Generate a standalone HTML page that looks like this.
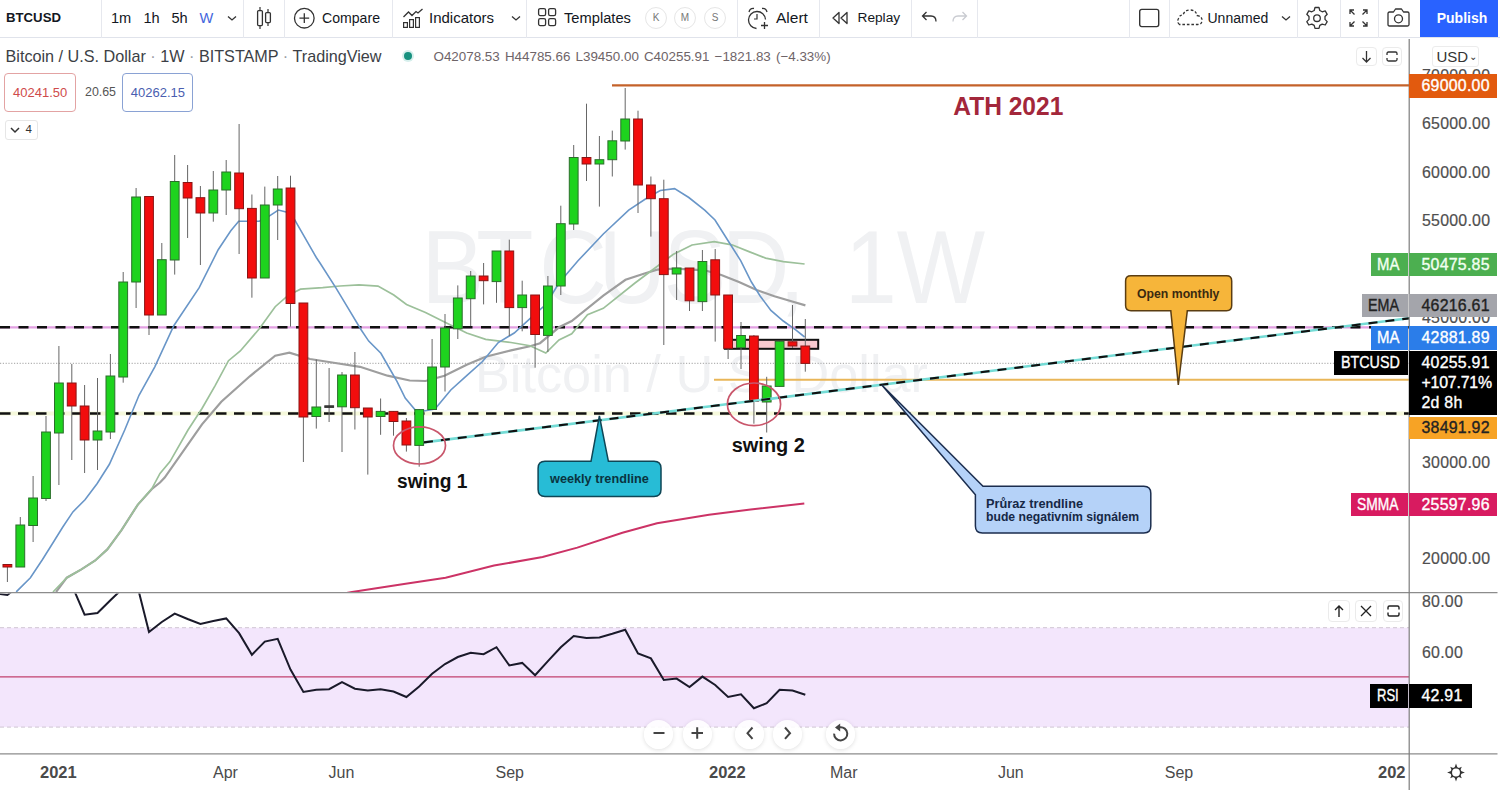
<!DOCTYPE html>
<html><head><meta charset="utf-8">
<style>
*{box-sizing:border-box;margin:0;padding:0}
html,body{width:1500px;height:790px;overflow:hidden;background:#fff;font-family:"Liberation Sans",Arial,sans-serif;color:#131722}
.abs{position:absolute;white-space:nowrap}
#tb{position:absolute;left:0;top:0;width:1500px;height:38px;border-bottom:1px solid #e0e3eb;background:#fff}
.sep{position:absolute;top:0;width:1px;height:38px;background:#e6e8ee}
.tt{position:absolute;top:8.5px;font-size:14px;line-height:18px;color:#131722;white-space:nowrap}
.ksm{position:absolute;top:7px;width:22px;height:22px;border-radius:50%;border:1px solid #e6e6e6;font-size:10px;line-height:20px;text-align:center;color:#777}
.pl{position:absolute;left:1409px;width:88px;height:23.5px;font-size:15.9px;line-height:23.5px;text-align:left;padding-left:12.5px;white-space:nowrap;letter-spacing:0.25px;-webkit-text-stroke:0.35px currentColor}
.pn{letter-spacing:0}
.sx{display:inline-block;transform-origin:0 50%}
.ax{position:absolute;left:1422px;font-size:15.9px;color:#4f4f4f;white-space:nowrap;letter-spacing:0.25px;line-height:18px;-webkit-text-stroke:0.2px currentColor}
.tl{position:absolute;top:763.5px;font-size:16px;line-height:18px;color:#4a4a4a;white-space:nowrap}
.sb{position:absolute;width:22px;height:22px;border:1px solid #ebebeb;border-radius:4px;background:#fff}
.nb{position:absolute;top:719.5px;width:29px;height:29px;border-radius:50%;background:rgba(255,255,255,0.88);box-shadow:0 1px 4px rgba(0,0,0,0.13)}
</style></head><body>
<!-- toolbar -->
<div id="tb">
 <div class="tt" style="left:6px;font-weight:700;font-size:13.2px;top:9px">BTCUSD</div>
 <div class="sep" style="left:101px"></div>
 <div class="tt" style="left:111px;font-size:14.6px">1m</div>
 <div class="tt" style="left:143.5px;font-size:14.6px">1h</div>
 <div class="tt" style="left:171.5px;font-size:14.6px">5h</div>
 <div class="tt" style="left:199.5px;font-size:14.6px;color:#4466dd">W</div>
 <svg class="abs" style="left:226px;top:13px" width="12" height="10"><path d="M2 3.5 L6 7 L10 3.5" fill="none" stroke="#333" stroke-width="1.3"/></svg>
 <div class="sep" style="left:243px"></div>
 <svg class="abs" style="left:255px;top:6px" width="18" height="24"><path d="M5 1v3M5 20v3M13 3v3M13 17v3" stroke="#333" stroke-width="1.2"/><rect x="2.6" y="4.6" width="4.8" height="15" rx="1" fill="none" stroke="#333" stroke-width="1.3"/><rect x="10.6" y="6.6" width="4.8" height="10" rx="1" fill="none" stroke="#333" stroke-width="1.3"/></svg>
 <div class="sep" style="left:284px"></div>
 <svg class="abs" style="left:293px;top:7px" width="23" height="23"><circle cx="11.3" cy="11.2" r="9.8" fill="none" stroke="#333" stroke-width="1.3"/><path d="M11.3 6.3v9.8M6.4 11.2h9.8" stroke="#333" stroke-width="1.3"/></svg>
 <div class="tt" style="left:322px;font-size:14.1px">Compare</div>
 <div class="sep" style="left:391.5px"></div>
 <svg class="abs" style="left:402px;top:7px" width="22" height="22"><path d="M1.5 10 L6.5 5 L10 8.5 L14 4.5 L16 6 L20.5 2" fill="none" stroke="#333" stroke-width="1.3"/><rect x="1.6" y="15.6" width="3.8" height="4.8" fill="none" stroke="#333" stroke-width="1.2"/><rect x="7.6" y="12.6" width="3.8" height="7.8" fill="none" stroke="#333" stroke-width="1.2"/><rect x="13.6" y="10.6" width="3.8" height="9.8" fill="none" stroke="#333" stroke-width="1.2"/></svg>
 <div class="tt" style="left:429px;font-size:15px">Indicators</div>
 <svg class="abs" style="left:510px;top:13px" width="12" height="10"><path d="M2 3.5 L6 7 L10 3.5" fill="none" stroke="#333" stroke-width="1.3"/></svg>
 <div class="sep" style="left:525.5px"></div>
 <svg class="abs" style="left:537px;top:7px" width="21" height="21"><rect x="1.6" y="1.6" width="7" height="7" rx="1.6" fill="none" stroke="#333" stroke-width="1.3"/><rect x="11.6" y="1.6" width="7" height="7" rx="1.6" fill="none" stroke="#333" stroke-width="1.3"/><rect x="1.6" y="11.6" width="7" height="7" rx="1.6" fill="none" stroke="#333" stroke-width="1.3"/><rect x="11.6" y="11.6" width="7" height="7" rx="1.6" fill="none" stroke="#333" stroke-width="1.3"/></svg>
 <div class="tt" style="left:564px;font-size:14.7px">Templates</div>
 <div class="ksm" style="left:645px">K</div>
 <div class="ksm" style="left:674px">M</div>
 <div class="ksm" style="left:704px">S</div>
 <div class="sep" style="left:737px"></div>
 <svg class="abs" style="left:746px;top:6px" width="25" height="25"><path d="M10.5 22.5 A8.5 8.5 0 1 1 19.5 13.5" fill="none" stroke="#333" stroke-width="1.3"/><path d="M3 6 Q4 2 8 2.5 M16 2.5 Q20 2 21 6" fill="none" stroke="#333" stroke-width="1.3"/><path d="M11 8v5h-3" fill="none" stroke="#333" stroke-width="1.2"/><path d="M18.5 16v7M15 19.5h7" stroke="#333" stroke-width="1.3"/></svg>
 <div class="tt" style="left:776px;font-size:15.5px">Alert</div>
 <div class="sep" style="left:819px"></div>
 <svg class="abs" style="left:831px;top:10px" width="18" height="16"><path d="M8 2.5 L2 8 L8 13.5 Z M16 2.5 L10 8 L16 13.5 Z" fill="none" stroke="#333" stroke-width="1.3" stroke-linejoin="round"/></svg>
 <div class="tt" style="left:857.5px;font-size:13.7px">Replay</div>
 <div class="sep" style="left:911px"></div>
 <svg class="abs" style="left:921px;top:10px" width="17" height="14"><path d="M5.5 2 L1.5 6 L5.5 10 M1.5 6 H10 Q15 6 15 11.5" fill="none" stroke="#333" stroke-width="1.3"/></svg>
 <svg class="abs" style="left:951px;top:10px" width="17" height="14"><path d="M11.5 2 L15.5 6 L11.5 10 M15.5 6 H7 Q2 6 2 11.5" fill="none" stroke="#c9cbd1" stroke-width="1.3"/></svg>
 <div class="sep" style="left:977px"></div>
 <div class="sep" style="left:1128.5px"></div>
 <svg class="abs" style="left:1138px;top:8px" width="23" height="20"><rect x="1.7" y="1.4" width="19" height="17.2" rx="2" fill="none" stroke="#333" stroke-width="1.4"/></svg>
 <div class="sep" style="left:1169px"></div>
 <svg class="abs" style="left:1176px;top:8px" width="28" height="19"><path d="M3.5 16.5 Q0.5 14 2.5 10.5 Q3.5 7 7 7 Q8.5 2 14 2 Q20 2 21 7.5 Q26.5 8.5 26 13 Q25.5 16.5 22 16.5 Z" fill="none" stroke="#333" stroke-width="1.3" stroke-dasharray="2.6 1.9"/></svg>
 <div class="tt" style="left:1207.5px;font-size:14px">Unnamed</div>
 <svg class="abs" style="left:1280px;top:13px" width="12" height="10"><path d="M2 3.5 L6 7 L10 3.5" fill="none" stroke="#333" stroke-width="1.3"/></svg>
 <div class="sep" style="left:1296.5px"></div>
 <svg class="abs" style="left:1305px;top:6px" width="24" height="24"><path d="M10 1.5h4l0.8 3 2.4 1.3 3-0.9 2 3.4-2.2 2.2v2.9l2.2 2.2-2 3.4-3-0.9-2.4 1.3-0.8 3h-4l-0.8-3-2.4-1.3-3 0.9-2-3.4 2.2-2.2v-2.9l-2.2-2.2 2-3.4 3 0.9 2.4-1.3z" fill="none" stroke="#333" stroke-width="1.3" stroke-linejoin="round"/><circle cx="12" cy="12.2" r="3.3" fill="none" stroke="#333" stroke-width="1.3"/></svg>
 <div class="sep" style="left:1340px"></div>
 <svg class="abs" style="left:1348px;top:8px" width="21" height="20"><path d="M2 6V2h4M2 2l4.5 4.5M19 6V2h-4M19 2l-4.5 4.5M2 14v4h4M2 18l4.5-4.5M19 14v4h-4M19 18l-4.5-4.5" fill="none" stroke="#333" stroke-width="1.3"/></svg>
 <div class="sep" style="left:1378px"></div>
 <svg class="abs" style="left:1386px;top:7px" width="25" height="21"><path d="M2 6.5 Q2 5 3.5 5 H7.5 L9.5 2 H15.5 L17.5 5 H21.5 Q23 5 23 6.5 V17.5 Q23 19 21.5 19 H3.5 Q2 19 2 17.5 Z" fill="none" stroke="#333" stroke-width="1.3" stroke-linejoin="round"/><circle cx="12.5" cy="11.8" r="4" fill="none" stroke="#333" stroke-width="1.3"/></svg>
 <div class="abs" style="left:1420px;top:0;width:77.5px;height:37px;background:#2962ff;color:#fff;font-weight:700;font-size:14px;line-height:36px;text-align:center;padding-left:6.5px">Publish</div>
</div>

<!-- legend -->
<div class="abs" style="left:5.5px;top:46px;font-size:16.2px;line-height:20px;color:#3c3f46">Bitcoin / U.S. Dollar <span style="color:#9a9da5">·</span> 1W <span style="color:#9a9da5">·</span> BITSTAMP <span style="color:#9a9da5">·</span> TradingView</div>
<div class="abs" style="left:401.5px;top:50px;width:12px;height:12px;border-radius:50%;background:#d6efec"></div>
<div class="abs" style="left:403.5px;top:52px;width:8px;height:8px;border-radius:50%;background:#17917f"></div>
<div class="abs" style="left:433.5px;top:49px;font-size:13.4px;line-height:16px;word-spacing:1.4px;color:#6e6468">O42078.53 H44785.66 L39450.00 C40255.91 −1821.83 (−4.33%)</div>
<div class="abs" style="left:4.2px;top:73px;width:72px;height:39px;border:1px solid #e3a3a3;border-radius:4px;font-size:13px;line-height:37px;color:#cf4b4b;text-align:center">40241.50</div>
<div class="abs" style="left:85px;top:85px;font-size:12.4px;line-height:15px;color:#555">20.65</div>
<div class="abs" style="left:122.4px;top:73px;width:71px;height:39px;border:1px solid #8aa2d4;border-radius:4px;font-size:13px;line-height:37px;color:#4a5eb0;text-align:center">40262.15</div>
<div class="abs" style="left:5px;top:119.8px;width:33px;height:20px;border:1px solid #e6e6e6;border-radius:3px;background:#fff"></div>
<svg class="abs" style="left:9px;top:125px" width="12" height="10"><path d="M2 3 L6 7 L10 3" fill="none" stroke="#333" stroke-width="1.5"/></svg>
<div class="abs" style="left:25.5px;top:121.5px;font-size:11.5px;line-height:15px;color:#333">4</div>

<!-- chart svg -->
<svg class="abs" style="left:0;top:0" width="1500" height="790" font-family="Liberation Sans, Arial, sans-serif">
<defs><clipPath id="rsiclip"><rect x="0" y="593.5" width="1409" height="160"/></clipPath><clipPath id="mainclip"><rect x="0" y="39" width="1409" height="553.5"/></clipPath></defs>
<g clip-path="url(#mainclip)">
<text x="468.3 529.1 599.1 664.9 737.2 802.0 865.6 900.0 938.7 996.3" y="303.5" transform="scale(0.9,1)" font-size="104" fill="#f0f1f3">BTCUSD, 1W</text>
<text x="475" y="391.5" font-size="52" fill="#f0f1f3" textLength="453" lengthAdjust="spacingAndGlyphs">Bitcoin / U.S. Dollar</text>
<line x1="0" x2="1409" y1="413.5" y2="413.5" stroke="#f6f9dc" stroke-width="4"/>
<line x1="0" x2="1409" y1="413.5" y2="413.5" stroke="#111" stroke-width="2.4" stroke-dasharray="10.5 7.5"/>
<line x1="0" x2="1409" y1="327.3" y2="327.3" stroke="#e2a0e2" stroke-width="2.2"/>
<line x1="0" x2="1409" y1="327.3" y2="327.3" stroke="#111" stroke-width="2.4" stroke-dasharray="10 8.5"/>
<line x1="0" x2="1409" y1="363.3" y2="363.3" stroke="#a0a0a0" stroke-width="1" stroke-dasharray="1.2 1.6"/>
<line x1="714" x2="1409" y1="379.7" y2="379.7" stroke="#e9b658" stroke-width="2"/>
<line x1="612" x2="1409" y1="85.4" y2="85.4" stroke="#c4622a" stroke-width="2.4"/>
<polyline points="330.0,596.0 352.0,592.0 404.0,584.0 445.6,577.7 494.0,565.6 542.6,557.0 577.3,547.6 622.4,532.7 657.0,523.3 709.0,514.7 750.6,509.5 804.3,503.6" fill="none" stroke="#cc3366" stroke-width="2"/>
<polyline points="56.0,592.0 66.8,577.7 81.0,569.6 95.2,560.5 107.3,549.4 121.5,530.1 137.7,504.8 151.9,489.0 160.0,482.5 164.7,477.6 202.0,424.4 221.3,401.7 249.8,376.3 275.2,355.7 289.4,352.6 310.0,359.0 335.3,363.0 360.0,366.8 387.5,375.7 409.7,380.5 425.5,381.0 444.5,375.7 466.7,364.7 485.7,356.7 511.0,350.4 530.0,346.3 540.0,343.2 559.0,327.3 571.7,321.0 603.3,295.7 625.5,279.8 644.5,273.5 657.2,269.7 676.2,268.7 704.7,270.3 721.3,275.0 739.0,282.0 756.7,290.0 774.4,296.2 792.2,301.5 805.4,305.4" fill="none" stroke="#9e9e9e" stroke-width="2.2"/>
<polyline points="53.0,592.0 66.8,577.7 81.0,569.6 95.2,560.5 107.3,549.4 121.5,530.1 137.7,504.8 151.9,488.6 160.0,473.4 170.0,461.6 188.0,430.0 202.0,408.5 215.0,385.8 228.5,360.7 240.3,351.0 259.3,328.8 275.2,306.7 287.8,295.6 300.5,289.2 322.7,287.7 340.0,286.0 359.0,284.9 378.0,286.1 393.8,295.0 406.5,304.5 425.5,312.4 444.5,322.0 466.7,333.0 485.7,339.3 511.0,342.5 530.0,345.7 545.8,353.0 559.0,340.0 571.7,333.7 587.5,314.7 603.3,308.3 635.0,283.0 654.0,268.7 673.0,254.5 692.0,245.0 714.2,241.6 731.9,244.8 749.6,251.9 765.6,258.1 783.3,261.6 804.6,264.0" fill="none" stroke="#9cc09a" stroke-width="1.7"/>
<polyline points="16.2,591.9 30.4,577.7 42.5,559.5 52.7,543.3 62.8,527.0 72.9,511.9 85.0,499.7 97.2,483.5 109.4,464.3 124.7,430.0 139.0,395.3 154.8,366.8 173.8,325.7 199.2,287.7 218.2,249.7 230.8,230.7 238.7,221.2 259.3,221.2 268.8,216.4 278.3,210.0 291.0,213.2 297.3,224.3 316.3,257.5 320.0,263.0 336.2,288.4 348.4,308.7 360.6,329.0 368.7,341.1 380.9,353.3 389.0,367.5 397.1,381.7 405.2,398.0 415.3,410.0 421.0,411.5 435.0,409.0 450.8,390.0 466.7,375.7 482.5,361.5 498.3,342.5 514.2,333.0 530.0,318.7 545.8,304.5 559.0,283.0 578.0,260.8 603.3,234.0 628.7,210.2 647.7,197.5 660.3,190.5 674.6,188.6 688.8,197.5 704.7,210.2 715.0,220.0 728.4,241.3 740.8,260.8 751.4,282.0 760.3,296.2 770.9,310.4 783.3,321.0 795.7,329.9 804.6,337.0" fill="none" stroke="#6996c8" stroke-width="1.6"/>
<rect x="724.8" y="339.8" width="93.4" height="9" fill="#f8c9cf" stroke="#111" stroke-width="2"/>
<line x1="7.4" x2="7.4" y1="564.5" y2="582" stroke="#666" stroke-width="1"/>
<line x1="20.3" x2="20.3" y1="517" y2="567" stroke="#666" stroke-width="1"/>
<line x1="33.1" x2="33.1" y1="476" y2="542" stroke="#666" stroke-width="1"/>
<line x1="46.0" x2="46.0" y1="416" y2="501" stroke="#666" stroke-width="1"/>
<line x1="58.9" x2="58.9" y1="346" y2="485" stroke="#666" stroke-width="1"/>
<line x1="71.8" x2="71.8" y1="364" y2="460" stroke="#666" stroke-width="1"/>
<line x1="84.6" x2="84.6" y1="385" y2="473" stroke="#666" stroke-width="1"/>
<line x1="97.5" x2="97.5" y1="378" y2="470" stroke="#666" stroke-width="1"/>
<line x1="110.4" x2="110.4" y1="354" y2="439" stroke="#666" stroke-width="1"/>
<line x1="123.2" x2="123.2" y1="272" y2="382.7" stroke="#666" stroke-width="1"/>
<line x1="136.1" x2="136.1" y1="188" y2="308" stroke="#666" stroke-width="1"/>
<line x1="149.0" x2="149.0" y1="196.5" y2="335" stroke="#666" stroke-width="1"/>
<line x1="161.8" x2="161.8" y1="243" y2="315" stroke="#666" stroke-width="1"/>
<line x1="174.7" x2="174.7" y1="155" y2="274.6" stroke="#666" stroke-width="1"/>
<line x1="187.6" x2="187.6" y1="165" y2="238" stroke="#666" stroke-width="1"/>
<line x1="200.4" x2="200.4" y1="186" y2="265" stroke="#666" stroke-width="1"/>
<line x1="213.3" x2="213.3" y1="171" y2="221.7" stroke="#666" stroke-width="1"/>
<line x1="226.2" x2="226.2" y1="160" y2="215" stroke="#666" stroke-width="1"/>
<line x1="239.1" x2="239.1" y1="124" y2="254" stroke="#666" stroke-width="1"/>
<line x1="251.9" x2="251.9" y1="194.5" y2="297.7" stroke="#666" stroke-width="1"/>
<line x1="264.8" x2="264.8" y1="186.6" y2="278" stroke="#666" stroke-width="1"/>
<line x1="277.7" x2="277.7" y1="176" y2="240" stroke="#666" stroke-width="1"/>
<line x1="290.5" x2="290.5" y1="175.7" y2="326.6" stroke="#666" stroke-width="1"/>
<line x1="303.4" x2="303.4" y1="303" y2="462" stroke="#666" stroke-width="1"/>
<line x1="316.3" x2="316.3" y1="359.5" y2="428.6" stroke="#666" stroke-width="1"/>
<line x1="329.1" x2="329.1" y1="368" y2="422" stroke="#666" stroke-width="1"/>
<line x1="342.0" x2="342.0" y1="372" y2="452" stroke="#666" stroke-width="1"/>
<line x1="354.9" x2="354.9" y1="352" y2="429.5" stroke="#666" stroke-width="1"/>
<line x1="367.8" x2="367.8" y1="408" y2="474.6" stroke="#666" stroke-width="1"/>
<line x1="380.6" x2="380.6" y1="398.5" y2="434.8" stroke="#666" stroke-width="1"/>
<line x1="393.5" x2="393.5" y1="411" y2="435.7" stroke="#666" stroke-width="1"/>
<line x1="406.4" x2="406.4" y1="418" y2="451.6" stroke="#666" stroke-width="1"/>
<line x1="419.2" x2="419.2" y1="409" y2="466.7" stroke="#666" stroke-width="1"/>
<line x1="432.1" x2="432.1" y1="339" y2="409.5" stroke="#666" stroke-width="1"/>
<line x1="445.0" x2="445.0" y1="314" y2="391.5" stroke="#666" stroke-width="1"/>
<line x1="457.8" x2="457.8" y1="285.4" y2="339" stroke="#666" stroke-width="1"/>
<line x1="470.7" x2="470.7" y1="271" y2="326" stroke="#666" stroke-width="1"/>
<line x1="483.6" x2="483.6" y1="263" y2="304.4" stroke="#666" stroke-width="1"/>
<line x1="496.5" x2="496.5" y1="251" y2="302.8" stroke="#666" stroke-width="1"/>
<line x1="509.3" x2="509.3" y1="239.6" y2="336" stroke="#666" stroke-width="1"/>
<line x1="522.2" x2="522.2" y1="280.7" y2="331.3" stroke="#666" stroke-width="1"/>
<line x1="535.1" x2="535.1" y1="295" y2="367.7" stroke="#666" stroke-width="1"/>
<line x1="547.9" x2="547.9" y1="276" y2="352" stroke="#666" stroke-width="1"/>
<line x1="560.8" x2="560.8" y1="205.7" y2="295" stroke="#666" stroke-width="1"/>
<line x1="573.7" x2="573.7" y1="145" y2="230" stroke="#666" stroke-width="1"/>
<line x1="586.5" x2="586.5" y1="103.7" y2="181" stroke="#666" stroke-width="1"/>
<line x1="599.4" x2="599.4" y1="136" y2="206.6" stroke="#666" stroke-width="1"/>
<line x1="612.3" x2="612.3" y1="130.6" y2="176.5" stroke="#666" stroke-width="1"/>
<line x1="625.2" x2="625.2" y1="88" y2="149.6" stroke="#666" stroke-width="1"/>
<line x1="638.0" x2="638.0" y1="110.7" y2="213" stroke="#666" stroke-width="1"/>
<line x1="650.9" x2="650.9" y1="176.5" y2="236.6" stroke="#666" stroke-width="1"/>
<line x1="663.8" x2="663.8" y1="179.7" y2="345" stroke="#666" stroke-width="1"/>
<line x1="676.6" x2="676.6" y1="251" y2="300" stroke="#666" stroke-width="1"/>
<line x1="689.5" x2="689.5" y1="268" y2="311" stroke="#666" stroke-width="1"/>
<line x1="702.4" x2="702.4" y1="250" y2="311" stroke="#666" stroke-width="1"/>
<line x1="715.2" x2="715.2" y1="249" y2="341.6" stroke="#666" stroke-width="1"/>
<line x1="728.1" x2="728.1" y1="295" y2="359" stroke="#666" stroke-width="1"/>
<line x1="741.0" x2="741.0" y1="322" y2="369" stroke="#666" stroke-width="1"/>
<line x1="753.9" x2="753.9" y1="335" y2="423.7" stroke="#666" stroke-width="1"/>
<line x1="766.7" x2="766.7" y1="376.8" y2="432.5" stroke="#666" stroke-width="1"/>
<line x1="779.6" x2="779.6" y1="341.3" y2="386.4" stroke="#666" stroke-width="1"/>
<line x1="792.5" x2="792.5" y1="305" y2="348" stroke="#666" stroke-width="1"/>
<line x1="805.3" x2="805.3" y1="319" y2="371.7" stroke="#666" stroke-width="1"/>
<rect x="3.0" y="564.5" width="8.8" height="2.5" fill="#f20d0d" stroke="#8a1414" stroke-width="1"/>
<rect x="15.9" y="525" width="8.8" height="42.0" fill="#1ed31e" stroke="#2b6e2b" stroke-width="1"/>
<rect x="28.7" y="498" width="8.8" height="27.5" fill="#1ed31e" stroke="#2b6e2b" stroke-width="1"/>
<rect x="41.6" y="432" width="8.8" height="66.5" fill="#1ed31e" stroke="#2b6e2b" stroke-width="1"/>
<rect x="54.5" y="383" width="8.8" height="50.0" fill="#1ed31e" stroke="#2b6e2b" stroke-width="1"/>
<rect x="67.3" y="383" width="8.8" height="23.0" fill="#f20d0d" stroke="#8a1414" stroke-width="1"/>
<rect x="80.2" y="406" width="8.8" height="34.0" fill="#f20d0d" stroke="#8a1414" stroke-width="1"/>
<rect x="93.1" y="431" width="8.8" height="9.0" fill="#1ed31e" stroke="#2b6e2b" stroke-width="1"/>
<rect x="106.0" y="376" width="8.8" height="56.0" fill="#1ed31e" stroke="#2b6e2b" stroke-width="1"/>
<rect x="118.8" y="282" width="8.8" height="95.0" fill="#1ed31e" stroke="#2b6e2b" stroke-width="1"/>
<rect x="131.7" y="197" width="8.8" height="85.0" fill="#1ed31e" stroke="#2b6e2b" stroke-width="1"/>
<rect x="144.6" y="196.5" width="8.8" height="118.5" fill="#f20d0d" stroke="#8a1414" stroke-width="1"/>
<rect x="157.4" y="259.7" width="8.8" height="55.3" fill="#1ed31e" stroke="#2b6e2b" stroke-width="1"/>
<rect x="170.3" y="181.5" width="8.8" height="78.5" fill="#1ed31e" stroke="#2b6e2b" stroke-width="1"/>
<rect x="183.2" y="182.5" width="8.8" height="15.5" fill="#f20d0d" stroke="#8a1414" stroke-width="1"/>
<rect x="196.0" y="197.7" width="8.8" height="15.3" fill="#f20d0d" stroke="#8a1414" stroke-width="1"/>
<rect x="208.9" y="190" width="8.8" height="23.0" fill="#1ed31e" stroke="#2b6e2b" stroke-width="1"/>
<rect x="221.8" y="172" width="8.8" height="18.0" fill="#1ed31e" stroke="#2b6e2b" stroke-width="1"/>
<rect x="234.7" y="173" width="8.8" height="35.7" fill="#f20d0d" stroke="#8a1414" stroke-width="1"/>
<rect x="247.5" y="208.4" width="8.8" height="69.6" fill="#f20d0d" stroke="#8a1414" stroke-width="1"/>
<rect x="260.4" y="205" width="8.8" height="73.0" fill="#1ed31e" stroke="#2b6e2b" stroke-width="1"/>
<rect x="273.3" y="189" width="8.8" height="16.0" fill="#1ed31e" stroke="#2b6e2b" stroke-width="1"/>
<rect x="286.1" y="188" width="8.8" height="115.5" fill="#f20d0d" stroke="#8a1414" stroke-width="1"/>
<rect x="299.0" y="303" width="8.8" height="114.0" fill="#f20d0d" stroke="#8a1414" stroke-width="1"/>
<rect x="311.9" y="407" width="8.8" height="9.5" fill="#1ed31e" stroke="#2b6e2b" stroke-width="1"/>
<rect x="324.8" y="405.8" width="8.8" height="1.6" fill="#3a3a3a" stroke="#333" stroke-width="1"/>
<rect x="337.6" y="375" width="8.8" height="31.8" fill="#1ed31e" stroke="#2b6e2b" stroke-width="1"/>
<rect x="350.5" y="375" width="8.8" height="32.7" fill="#f20d0d" stroke="#8a1414" stroke-width="1"/>
<rect x="363.4" y="408" width="8.8" height="9.0" fill="#f20d0d" stroke="#8a1414" stroke-width="1"/>
<rect x="376.2" y="411.4" width="8.8" height="5.1" fill="#1ed31e" stroke="#2b6e2b" stroke-width="1"/>
<rect x="389.1" y="411.4" width="8.8" height="10.1" fill="#f20d0d" stroke="#8a1414" stroke-width="1"/>
<rect x="402.0" y="421" width="8.8" height="24.0" fill="#f20d0d" stroke="#8a1414" stroke-width="1"/>
<rect x="414.8" y="409.6" width="8.8" height="35.8" fill="#1ed31e" stroke="#2b6e2b" stroke-width="1"/>
<rect x="427.7" y="367" width="8.8" height="42.5" fill="#1ed31e" stroke="#2b6e2b" stroke-width="1"/>
<rect x="440.6" y="328" width="8.8" height="39.0" fill="#1ed31e" stroke="#2b6e2b" stroke-width="1"/>
<rect x="453.4" y="298" width="8.8" height="30.8" fill="#1ed31e" stroke="#2b6e2b" stroke-width="1"/>
<rect x="466.3" y="276" width="8.8" height="22.7" fill="#1ed31e" stroke="#2b6e2b" stroke-width="1"/>
<rect x="479.2" y="276" width="8.8" height="4.7" fill="#f20d0d" stroke="#8a1414" stroke-width="1"/>
<rect x="492.1" y="251" width="8.8" height="30.6" fill="#1ed31e" stroke="#2b6e2b" stroke-width="1"/>
<rect x="504.9" y="251" width="8.8" height="56.6" fill="#f20d0d" stroke="#8a1414" stroke-width="1"/>
<rect x="517.8" y="295" width="8.8" height="12.6" fill="#1ed31e" stroke="#2b6e2b" stroke-width="1"/>
<rect x="530.7" y="295" width="8.8" height="39.5" fill="#f20d0d" stroke="#8a1414" stroke-width="1"/>
<rect x="543.5" y="286" width="8.8" height="49.4" fill="#1ed31e" stroke="#2b6e2b" stroke-width="1"/>
<rect x="556.4" y="223.7" width="8.8" height="62.3" fill="#1ed31e" stroke="#2b6e2b" stroke-width="1"/>
<rect x="569.3" y="157.5" width="8.8" height="66.5" fill="#1ed31e" stroke="#2b6e2b" stroke-width="1"/>
<rect x="582.1" y="157.5" width="8.8" height="6.5" fill="#f20d0d" stroke="#8a1414" stroke-width="1"/>
<rect x="595.0" y="159.7" width="8.8" height="4.3" fill="#1ed31e" stroke="#2b6e2b" stroke-width="1"/>
<rect x="607.9" y="140.8" width="8.8" height="18.9" fill="#1ed31e" stroke="#2b6e2b" stroke-width="1"/>
<rect x="620.8" y="119" width="8.8" height="22.0" fill="#1ed31e" stroke="#2b6e2b" stroke-width="1"/>
<rect x="633.6" y="119" width="8.8" height="66.0" fill="#f20d0d" stroke="#8a1414" stroke-width="1"/>
<rect x="646.5" y="185" width="8.8" height="13.7" fill="#f20d0d" stroke="#8a1414" stroke-width="1"/>
<rect x="659.4" y="198.7" width="8.8" height="75.9" fill="#f20d0d" stroke="#8a1414" stroke-width="1"/>
<rect x="672.2" y="268" width="8.8" height="6.0" fill="#1ed31e" stroke="#2b6e2b" stroke-width="1"/>
<rect x="685.1" y="268" width="8.8" height="32.8" fill="#f20d0d" stroke="#8a1414" stroke-width="1"/>
<rect x="698.0" y="261.5" width="8.8" height="40.1" fill="#1ed31e" stroke="#2b6e2b" stroke-width="1"/>
<rect x="710.8" y="259.8" width="8.8" height="35.2" fill="#f20d0d" stroke="#8a1414" stroke-width="1"/>
<rect x="723.7" y="295" width="8.8" height="53.4" fill="#f20d0d" stroke="#8a1414" stroke-width="1"/>
<rect x="736.6" y="335.5" width="8.8" height="12.2" fill="#1ed31e" stroke="#2b6e2b" stroke-width="1"/>
<rect x="749.5" y="336" width="8.8" height="65.4" fill="#f20d0d" stroke="#8a1414" stroke-width="1"/>
<rect x="762.3" y="386" width="8.8" height="16.0" fill="#1ed31e" stroke="#2b6e2b" stroke-width="1"/>
<rect x="775.2" y="341.3" width="8.8" height="45.1" fill="#1ed31e" stroke="#2b6e2b" stroke-width="1"/>
<rect x="788.1" y="341.8" width="8.8" height="4.2" fill="#f20d0d" stroke="#8a1414" stroke-width="1"/>
<rect x="800.9" y="346" width="8.8" height="17.4" fill="#f20d0d" stroke="#8a1414" stroke-width="1"/>
<line x1="424" y1="442.4" x2="1409" y2="318.3" stroke="#74dcd6" stroke-width="2.6"/>
<line x1="424" y1="442.4" x2="1409" y2="318.3" stroke="#111" stroke-width="2.2" stroke-dasharray="9 8"/>
<ellipse cx="419.5" cy="445.4" rx="26" ry="18.6" fill="none" stroke="#c9566b" stroke-width="1.7"/>
<ellipse cx="754" cy="404.3" rx="26.6" ry="21.3" fill="none" stroke="#c9566b" stroke-width="1.7"/>
<text x="953.3" y="114.7" font-size="25.3" font-weight="700" fill="#a3273b" textLength="110" lengthAdjust="spacingAndGlyphs">ATH 2021</text>
<text x="397" y="487.6" font-size="20" font-weight="700" fill="#111" textLength="70.4" lengthAdjust="spacingAndGlyphs">swing 1</text>
<text x="731.7" y="452.3" font-size="20" font-weight="700" fill="#111" textLength="73.3" lengthAdjust="spacingAndGlyphs">swing 2</text>
<path d="M1131,275.8 H1226.5 Q1231.7,275.8 1231.7,281 V305.6 Q1231.7,310.8 1226.5,310.8 H1187.3 L1178.3,385 L1170.8,310.8 H1131 Q1125.6,310.8 1125.6,305.6 V281 Q1125.6,275.8 1131,275.8 Z" fill="#f6b53a" stroke="#5a3d12" stroke-width="1.5"/>
<text x="1137" y="298" font-size="12.2" font-weight="700" fill="#3a2a10" textLength="82.4" lengthAdjust="spacingAndGlyphs">Open monthly</text>
<path d="M545,461.3 H591 L599.4,416 L608.4,461.3 H654 Q661,461.3 661,468.3 V489.4 Q661,496.4 654,496.4 H545 Q538.1,496.4 538.1,489.4 V468.3 Q538.1,461.3 545,461.3 Z" fill="#27bcd6" stroke="#0e4656" stroke-width="1.5"/>
<text x="550" y="483.4" font-size="12.6" font-weight="700" fill="#0a3440" textLength="98.8" lengthAdjust="spacingAndGlyphs">weekly trendline</text>
<path d="M983,486.2 H1143.8 Q1150.8,486.2 1150.8,493.2 V526 Q1150.8,533 1143.8,533 H982.4 Q975.4,533 975.4,526 V494.8 L881.8,385 Z" fill="#b5d2f8" stroke="#1b2d4e" stroke-width="1.5"/>
<text x="986" y="507.5" font-size="12.2" font-weight="700" fill="#162846" textLength="97" lengthAdjust="spacingAndGlyphs">Průraz trendline</text>
<text x="986" y="520.5" font-size="12.2" font-weight="700" fill="#162846" textLength="153" lengthAdjust="spacingAndGlyphs">bude negativním signálem</text>
</g>
<rect x="0" y="627.7" width="1409" height="99.4" fill="#f3e6fc"/>
<line x1="0" x2="1409" y1="627.7" y2="627.7" stroke="#cfc6d3" stroke-width="1" stroke-dasharray="4 3"/>
<line x1="0" x2="1409" y1="727.1" y2="727.1" stroke="#cfc6d3" stroke-width="1" stroke-dasharray="4 3"/>
<line x1="0" x2="1409" y1="676.8" y2="676.8" stroke="#c2416e" stroke-width="1.3"/>
<g clip-path="url(#rsiclip)"><polyline points="-6.0,593.0 7.4,595.0 20.3,585.0 33.1,575.0 46.0,575.0 58.9,578.0 71.8,585.0 84.6,614.7 97.5,613.0 110.4,600.2 123.2,588.0 136.1,580.8 149.0,632.0 161.8,622.0 174.7,613.6 187.6,619.0 200.4,624.0 213.3,621.0 226.2,618.4 239.1,633.2 251.9,654.8 264.8,641.6 277.7,638.8 290.5,669.6 303.4,692.0 316.3,689.8 329.1,689.2 342.0,682.2 354.9,688.7 367.8,690.6 380.6,689.2 393.5,691.5 406.4,697.0 419.2,686.4 432.1,673.8 445.0,664.0 457.8,657.0 470.7,652.8 483.6,654.2 496.5,647.2 509.3,665.4 522.2,662.9 535.1,675.2 547.9,661.2 560.8,647.2 573.7,636.0 586.5,638.0 599.4,637.4 612.3,633.8 625.2,629.8 638.0,653.4 650.9,658.4 663.8,680.0 676.6,678.6 689.5,687.0 702.4,676.6 715.2,685.0 728.1,697.0 741.0,694.3 753.9,708.3 766.7,703.2 779.6,689.8 792.5,690.6 805.3,694.8" fill="none" stroke="#1a1a2a" stroke-width="2"/></g>
<line x1="0" x2="1497.5" y1="592.7" y2="592.7" stroke="#8c8c8c" stroke-width="1.2"/>
<line x1="0" x2="1497.5" y1="753.8" y2="753.8" stroke="#8c8c8c" stroke-width="1.2"/>
<line x1="1409.2" x2="1409.2" y1="39" y2="790" stroke="#7d7d7d" stroke-width="1.2"/>
</svg>

<!-- top-right chart buttons -->
<div class="sb" style="left:1356px;top:46.5px;width:21px;height:19px"></div>
<svg class="abs" style="left:1356px;top:46.5px" width="21" height="19"><path d="M10.5 4v11M6.5 11l4 4 4-4" fill="none" stroke="#333" stroke-width="1.3"/></svg>
<div class="sb" style="left:1382px;top:46.5px;width:20px;height:19px"></div>
<svg class="abs" style="left:1382px;top:46.5px" width="20" height="19"><path d="M5 8V6.5Q5 5 6.5 5h7Q15 5 15 6.5V8M5 11v1.5Q5 14 6.5 14h7q1.5 0 1.5-1.5V11" fill="none" stroke="#333" stroke-width="1.3"/></svg>

<!-- price axis -->
<div class="ax" style="top:66.9px">70000.00</div>
<div class="abs" style="left:1432px;top:45.5px;width:47px;height:21.5px;background:#fff;border:1px solid #ececec;border-radius:3px;font-size:15px;line-height:20px;color:#333;padding-left:3.5px">USD<span style="font-size:10px;position:relative;top:-2px;left:1px">⌄</span></div>
<div class="pl" style="top:74px;background:#e25a0e;color:#fff;height:23.5px">69000.00</div>
<div class="ax" style="top:115.3px">65000.00</div>
<div class="ax" style="top:163.6px">60000.00</div>
<div class="ax" style="top:211.9px">55000.00</div>
<div class="ax" style="top:308.6px">45000.00</div>
<div class="ax" style="top:453.5px">30000.00</div>
<div class="ax" style="top:550.2px">20000.00</div>
<div class="ax" style="top:592.9px">80.00</div>
<div class="ax" style="top:643.6px">60.00</div>

<div class="pl pn" style="left:1371px;width:37px;top:252.7px;background:#4caf50;color:#f2fff2;padding-left:6.3px"><span class="sx" style="transform:scaleX(0.94)">MA</span></div>
<div class="pl" style="top:252.7px;background:#4caf50;color:#f2fff2">50475.85</div>
<div class="pl pn" style="left:1362px;width:46px;top:293.7px;background:#a4a5ab;color:#222;padding-left:6px"><span class="sx" style="transform:scaleX(0.9)">EMA</span></div>
<div class="pl" style="top:293.7px;background:#a4a5ab;color:#222">46216.61</div>
<div class="pl pn" style="left:1371px;width:37px;top:326px;background:#2b7de9;color:#fff;padding-left:6px"><span class="sx" style="transform:scaleX(0.94)">MA</span></div>
<div class="pl" style="top:326px;background:#2b7de9;color:#fff">42881.89</div>
<div class="pl pn" style="left:1334px;width:74px;top:351.4px;height:24px;background:#000;color:#fff;padding-left:6.6px"><span class="sx" style="transform:scaleX(0.9)">BTCUSD</span></div>
<div class="pl" style="top:351.4px;height:63.3px;background:#000;color:#fff;line-height:20px;padding-top:2px">40255.91<br><span style="letter-spacing:-0.2px">+107.71%</span><br>2d 8h</div>
<div class="pl" style="top:416.5px;height:22.2px;background:#f7a325;color:#222;line-height:22.2px">38491.92</div>
<div class="pl pn" style="left:1350.5px;width:57.5px;top:492.7px;background:#d81b60;color:#fff;padding-left:6.8px"><span class="sx" style="transform:scaleX(0.87)">SMMA</span></div>
<div class="pl" style="top:492.7px;background:#d81b60;color:#fff">25597.96</div>
<div class="pl pn" style="left:1369.7px;width:38.5px;top:684px;background:#000;color:#fff;padding-left:7px"><span class="sx" style="transform:scaleX(0.82)">RSI</span></div>
<div class="pl" style="top:684px;width:62.5px;background:#000;color:#fff">42.91</div>

<!-- RSI pane buttons -->
<div class="sb" style="left:1328.3px;top:600px"></div>
<svg class="abs" style="left:1328.3px;top:600px" width="22" height="22"><path d="M11 17V6M7 10l4-4 4 4" fill="none" stroke="#222" stroke-width="1.4"/></svg>
<div class="sb" style="left:1355.3px;top:600px;width:21.5px"></div>
<svg class="abs" style="left:1355.3px;top:600px" width="22" height="22"><path d="M6 6l10 10M16 6L6 16" fill="none" stroke="#222" stroke-width="1.3"/></svg>
<div class="sb" style="left:1382.5px;top:600px;width:20.5px"></div>
<svg class="abs" style="left:1382.5px;top:600px" width="21" height="22"><path d="M5 9.5V7.5Q5 6 6.5 6h8Q16 6 16 7.5v2M5 12.5v2Q5 16 6.5 16h8q1.5 0 1.5-1.5v-2" fill="none" stroke="#222" stroke-width="1.4"/></svg>

<!-- nav buttons -->
<div class="nb" style="left:644.3px"></div>
<div class="nb" style="left:682.7px"></div>
<div class="nb" style="left:734.7px"></div>
<div class="nb" style="left:773.1px"></div>
<div class="nb" style="left:825.9px"></div>
<svg class="abs" style="left:630px;top:705px" width="240" height="50">
<path d="M23.5 28h11" stroke="#444" stroke-width="2"/>
<path d="M61.5 28h11.5M67.2 22.3v11.5" stroke="#444" stroke-width="2"/>
<path d="M122.5 22.5l-5 5.7 5 5.7" fill="none" stroke="#444" stroke-width="2"/>
<path d="M155 22.5l5 5.7-5 5.7" fill="none" stroke="#444" stroke-width="2"/>
<path d="M209.7 22.3 A6.6 6.6 0 1 1 204.1 28.6" fill="none" stroke="#444" stroke-width="2"/><path d="M205 22.6 L210.2 18.6 L210.2 26.4 Z" fill="#444"/>
</svg>

<!-- time axis -->
<div class="tl" style="left:40px;top:762.5px;font-weight:700;font-size:16.5px">2021</div>
<div class="tl" style="left:213px">Apr</div>
<div class="tl" style="left:328.5px">Jun</div>
<div class="tl" style="left:495.5px">Sep</div>
<div class="tl" style="left:709px;top:762.5px;font-weight:700;font-size:16.5px">2022</div>
<div class="tl" style="left:830px">Mar</div>
<div class="tl" style="left:997.9px">Jun</div>
<div class="tl" style="left:1164.8px">Sep</div>
<div class="tl" style="left:1378px;top:762.5px;font-weight:700;font-size:16.5px">202</div>
<svg class="abs" style="left:1446px;top:762px" width="21" height="21"><path d="M8.08 6.99L10.00 1.60L11.92 6.99ZM11.13 6.66L15.80 4.70L13.84 9.37ZM13.51 8.58L18.90 10.50L13.51 12.42ZM13.84 11.63L15.80 16.30L11.13 14.34ZM11.92 14.01L10.00 19.40L8.08 14.01ZM8.87 14.34L4.20 16.30L6.16 11.63ZM6.49 12.42L1.10 10.50L6.49 8.58ZM6.16 9.37L4.20 4.70L8.87 6.66Z" fill="#333"/><circle cx="10" cy="10.5" r="4.7" fill="#fff" stroke="#333" stroke-width="1.5"/></svg>
</body></html>
